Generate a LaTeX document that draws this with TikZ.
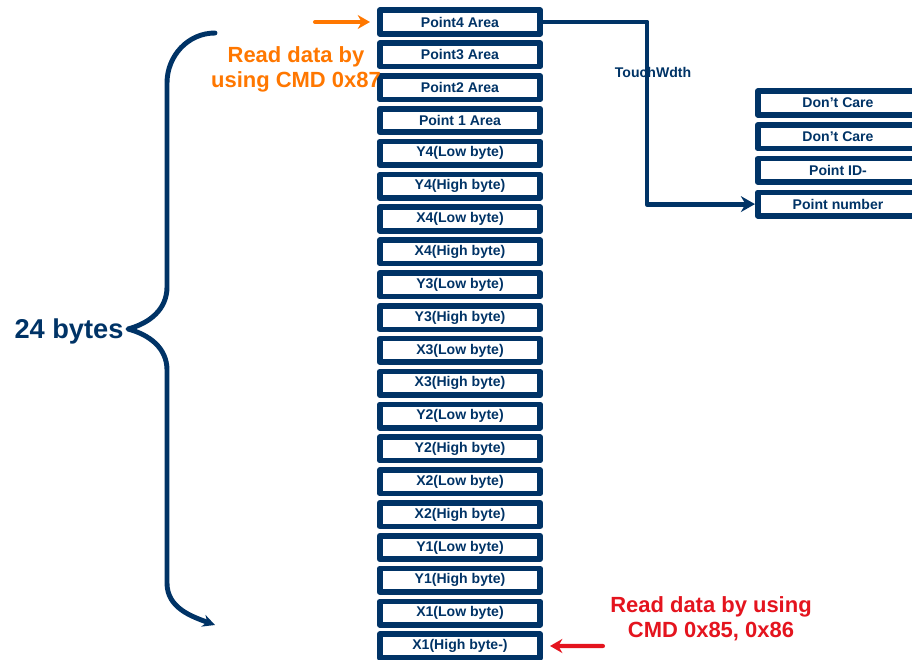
\documentclass[tikz,border=0pt]{standalone}
\usepackage{fontspec}
\setmainfont{Liberation Sans}
\usetikzlibrary{arrows.meta,calc}

\definecolor{navy}{RGB}{0,51,102}
\definecolor{readorange}{RGB}{255,119,0}
\definecolor{readred}{RGB}{228,20,30}

\begin{document}
\begin{tikzpicture}[x=0.02cm,y=-0.02cm,>=Stealth,
    line cap=round,line join=round,
    slot/.style={draw=navy,line width=3.2pt,fill=white,
      minimum width=3.21cm,minimum height=0.47cm,inner sep=0pt,
      font=\fontsize{8}{9}\selectfont\bfseries,text=navy},
    link/.style={navy,line width=2.8pt,-{Stealth[length=8pt,width=9pt]}},
    readnote/.style={align=center,font=\fontsize{12.5}{14.2}\selectfont\bfseries}]
    \useasboundingbox (0,0) rectangle (912,659);
    \clip (0,0) rectangle (912,659);

    % The 20 register slots of the point buffer.
    \foreach \lbl [count=\i from 0] in {Point4 Area,Point3 Area,Point2 Area,
        Point 1 Area,Y4(Low byte),Y4(High byte),X4(Low byte),X4(High byte),
        Y3(Low byte),Y3(High byte),X3(Low byte),X3(High byte),
        Y2(Low byte),Y2(High byte),X2(Low byte),X2(High byte),
        Y1(Low byte),Y1(High byte),X1(Low byte),X1(High byte-)}
      \node[slot] (r\i) at (460,{22+32.84*\i}) {\lbl};

    % Contents of one point area.
    \foreach \lbl [count=\i from 0] in {Don’t Care,Don’t Care,Point ID-,
        Point number}
      \node[slot] (t\i) at (838,{103+33.7*\i}) {\lbl};

    \coordinate (bend) at (647,22);
    \draw[link] (r0.east) -- (bend) |- (t3.west);
    \node[font=\fontsize{8}{9}\selectfont\bfseries,text=navy] (tw)
      at (653,72) {TouchWdth};

    % Brace over the whole buffer.
    \coordinate (tip) at (128,329);
    \draw[navy,line width=2.8pt,-{Stealth[length=7pt,width=7pt]}]
      (215,33) to[out=180,in=90] (167,83) -- (167,287)
      to[out=-90,in=15] (tip) to[out=-15,in=90] (167,370)
      -- (167,583) to[out=-90,in=160] (215,625);
    \node[font=\fontsize{15.5}{18}\selectfont\bfseries,text=navy] (bytes)
      at (69,331) {24 bytes};

    % Read commands.
    \coordinate (otail) at (315,22);
    \draw[readorange,line width=2.3pt,-{Stealth[length=7pt,width=8pt]},
      shorten >=0.14cm] (otail) -- (r0.west);
    \node[readnote,text=readorange] (ocmd) at (296,69)
      {Read data by\\using CMD 0x87};

    \coordinate (rtail) at (603,646);
    \draw[readred,line width=2.3pt,-{Stealth[length=7pt,width=8pt]},
      shorten >=0.14cm] (rtail) -- (r19.east);
    \node[readnote,text=readred] (rcmd) at (711,619)
      {Read data by using\\CMD 0x85, 0x86};
\end{tikzpicture}
\end{document}
